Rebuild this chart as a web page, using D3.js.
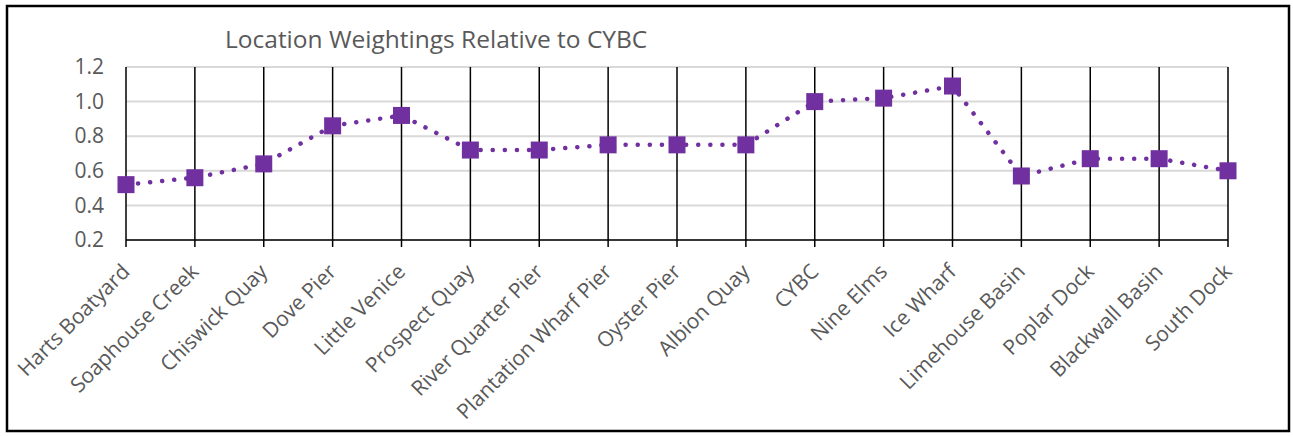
<!DOCTYPE html>
<html><head><meta charset="utf-8">
<script src="https://cdn.jsdelivr.net/npm/d3@7"></script>
<style>body{margin:0;background:#fff}svg{display:block}</style>
</head><body>
<svg id="c" width="1293" height="437"></svg>
<script>
const categories = ["Harts Boatyard","Soaphouse Creek","Chiswick Quay","Dove Pier","Little Venice","Prospect Quay","River Quarter Pier","Plantation Wharf Pier","Oyster Pier","Albion Quay","CYBC","Nine Elms","Ice Wharf","Limehouse Basin","Poplar Dock","Blackwall Basin","South Dock"];
const weights = [0.52,0.56,0.64,0.86,0.92,0.72,0.72,0.75,0.75,0.75,1.00,1.02,1.09,0.57,0.67,0.67,0.60];
const yTicks = [0.2,0.4,0.6,0.8,1.0,1.2];
const title = "Location Weightings Relative to CYBC";

const svg = d3.select("#c");
const font = "Open Sans, sans-serif";
svg.append("rect").attr("x",7).attr("y",6).attr("width",1282).attr("height",425)
  .attr("fill","#fff").attr("stroke","#000").attr("stroke-width",2.5);

const x = d3.scalePoint().domain(categories).range([126,1228]);
const y = d3.scaleLinear().domain([0.2,1.2]).range([240,67]);

// gridlines
svg.append("g").selectAll("line").data(yTicks).join("line")
  .attr("x1",126).attr("x2",1228).attr("y1",d=>y(d)).attr("y2",d=>y(d))
  .attr("stroke","#d9d9d9").attr("stroke-width",2);
// vertical lines
svg.append("g").selectAll("line").data(categories).join("line")
  .attr("x1",d=>x(d)).attr("x2",d=>x(d)).attr("y1",y(1.2)).attr("y2",y(0.2)+7)
  .attr("stroke","#000").attr("stroke-width",1.5);
// x axis line
svg.append("line").attr("x1",126).attr("x2",1228).attr("y1",y(0.2)).attr("y2",y(0.2))
  .attr("stroke","#000").attr("stroke-width",1.5);

// y labels
const yAxis = svg.append("g").attr("transform","translate(104,0)")
  .call(d3.axisLeft(y).tickValues(yTicks).tickFormat(d3.format(".1f")).tickSize(0).tickPadding(0));
yAxis.select(".domain").remove();
yAxis.selectAll("text").attr("font-family",font).attr("font-size",21).attr("fill","#595959");

// x labels
svg.append("g").selectAll("text").data(categories).join("text")
  .attr("transform",d=>`translate(${x(d)-6},${262}) rotate(-45)`)
  .attr("text-anchor","end").attr("dy","0.74em")
  .attr("font-family",font).attr("font-size",21).attr("fill","#595959")
  .text(d=>d);

// line
const line = d3.line().x((d,i)=>x(categories[i])).y(d=>y(d));
svg.append("path").datum(weights).attr("d",line).attr("fill","none")
  .attr("stroke","#7030a0").attr("stroke-width",4.5).attr("stroke-linecap","round")
  .attr("stroke-dasharray","0.1 12");
svg.append("g").selectAll("rect").data(weights).join("rect")
  .attr("x",(d,i)=>x(categories[i])-8.5).attr("y",d=>y(d)-8.5)
  .attr("width",17).attr("height",17).attr("fill","#7030a0");

svg.append("text").attr("x",225).attr("y",48).attr("font-family",font).attr("font-size",24.5)
  .attr("fill","#595959").text(title);
</script>
</body></html>
